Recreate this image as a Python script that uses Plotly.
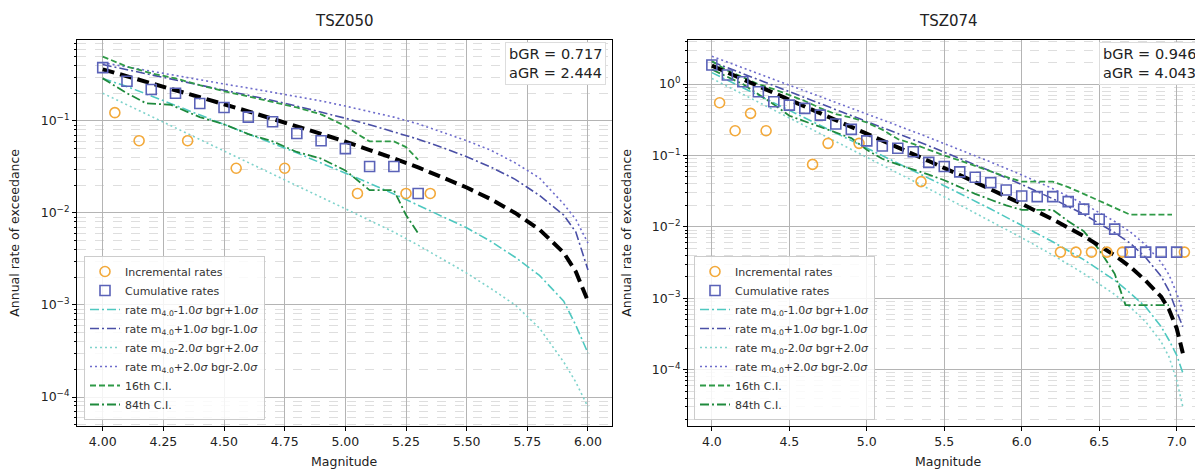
import plotly.graph_objects as go

# ---------------- TSZ050 (left) ----------------
L_inc_m = [4.05, 4.15, 4.35, 4.55, 4.75, 5.05, 5.25, 5.35]
L_inc_r = [0.123, 0.061, 0.061, 0.0306, 0.0306, 0.0163, 0.0163, 0.0163]
L_cum_m = [4.0, 4.1, 4.2, 4.3, 4.4, 4.5, 4.6, 4.7, 4.8, 4.9, 5.0, 5.1, 5.2, 5.3]
L_cum_r = [0.38, 0.27, 0.22, 0.20, 0.155, 0.14, 0.11, 0.098, 0.073, 0.061, 0.050, 0.032, 0.032, 0.0163]

L_curve_m = [4.0, 4.1, 4.2, 4.3, 4.4, 4.5, 4.6, 4.7, 4.8, 4.9, 5.0, 5.1, 5.2, 5.3, 5.4,
             5.5, 5.6, 5.7, 5.8, 5.9, 5.95, 6.0]
L_mean = [0.364, 0.307, 0.258, 0.217, 0.182, 0.152, 0.127, 0.106, 0.0878, 0.0725, 0.0595,
          0.0485, 0.0392, 0.0313, 0.0246, 0.0189, 0.0141, 0.0100, 0.0066, 0.0037, 0.0023, 0.0011]
L_m1b1 = [0.29, 0.236, 0.187, 0.148, 0.117, 0.092, 0.073, 0.057, 0.045, 0.035, 0.0272,
          0.021, 0.0161, 0.0122, 0.0092, 0.0069, 0.0049, 0.0033, 0.0021, 0.0011, 0.0006, 0.0003]
L_p1b1 = [0.41, 0.361, 0.320, 0.283, 0.249, 0.219, 0.192, 0.167, 0.145, 0.125, 0.107,
          0.091, 0.0765, 0.0634, 0.0515, 0.0408, 0.0315, 0.0232, 0.0155, 0.0095, 0.0062, 0.0024]
L_m2b2 = [0.20, 0.15, 0.113, 0.0843, 0.063, 0.0472, 0.0353, 0.0264, 0.0198, 0.0148, 0.0111,
          0.0083, 0.0062, 0.00447, 0.00316, 0.00222, 0.00151, 0.0010, 0.00056, 0.00024, 0.000145, 0.000078]
L_p2b2 = [0.43, 0.385, 0.345, 0.31, 0.28, 0.252, 0.228, 0.205, 0.185, 0.165, 0.145,
          0.127, 0.11, 0.093, 0.076, 0.061, 0.048, 0.035, 0.024, 0.0125, 0.0085, 0.0047]
L_ci16_m = [4.0, 4.1, 4.2, 4.3, 4.4, 4.5, 4.6, 4.7, 4.8, 4.9, 5.0, 5.05, 5.1, 5.2, 5.25, 5.3]
L_ci16_r = [0.50, 0.39, 0.33, 0.29, 0.245, 0.21, 0.185, 0.16, 0.14, 0.118, 0.088, 0.072, 0.060, 0.060, 0.052, 0.038]
L_ci84_m = [4.0, 4.1, 4.18, 4.28, 4.4, 4.5, 4.6, 4.7, 4.8, 4.9, 5.0, 5.1, 5.2, 5.25, 5.3]
L_ci84_r = [0.29, 0.20, 0.155, 0.15, 0.11, 0.092, 0.072, 0.06, 0.046, 0.039, 0.029, 0.0177, 0.0177, 0.0095, 0.006]

# ---------------- TSZ074 (right) ----------------
R_inc_m = [4.05, 4.15, 4.25, 4.35, 4.65, 4.75, 4.95, 5.35, 6.25, 6.35, 6.45, 6.55, 6.65, 7.05]
R_inc_r = [0.548, 0.222, 0.389, 0.222, 0.075, 0.148, 0.148, 0.043,
           0.00443, 0.00443, 0.00443, 0.00443, 0.00443, 0.00443]
R_cum_m = [4.0, 4.1, 4.2, 4.3, 4.4, 4.5, 4.6, 4.7, 4.8, 4.9, 5.0, 5.1, 5.2, 5.3, 5.4, 5.5,
           5.6, 5.7, 5.8, 5.9, 6.0, 6.1, 6.2, 6.3, 6.4, 6.5, 6.6, 6.7, 6.8, 6.9, 7.0]
R_cum_r = [1.85, 1.34, 1.08, 0.78, 0.566, 0.508, 0.457, 0.368, 0.276, 0.232, 0.16, 0.136,
           0.126, 0.113, 0.08, 0.070, 0.059, 0.0496, 0.0417, 0.0329, 0.0271, 0.0265, 0.0265,
           0.0226, 0.0177, 0.0128, 0.0093, 0.00443, 0.00443, 0.00443, 0.00443]

R_curve_m = [4.0, 4.2, 4.4, 4.6, 4.8, 5.0, 5.2, 5.4, 5.6, 5.8, 6.0, 6.2, 6.4, 6.6, 6.7,
             6.8, 6.9, 6.95, 7.0, 7.04]
R_mean = [1.813, 1.172, 0.757, 0.489, 0.3155, 0.2033, 0.1307, 0.0837, 0.0533, 0.0337, 0.0210,
          0.01275, 0.00743, 0.00399, 0.00276, 0.00176, 0.00105, 0.0007, 0.00038, 0.00017]
R_m1b1 = [1.449, 0.893, 0.550, 0.339, 0.2086, 0.1283, 0.0788, 0.0482, 0.0294, 0.01777, 0.01061,
          0.00619, 0.00347, 0.00179, 0.00118, 0.000756, 0.0004, 0.00026, 0.00016, 0.00009]
R_p1b1 = [2.064, 1.406, 0.958, 0.6515, 0.4427, 0.3001, 0.2028, 0.1365, 0.0912, 0.0603, 0.0392,
          0.0248, 0.0150, 0.0083, 0.0059, 0.00373, 0.00202, 0.00128, 0.00065, 0.0004]
R_m2b2 = [1.199, 0.7226, 0.4352, 0.262, 0.1576, 0.0948, 0.0569, 0.0341, 0.0203, 0.01203, 0.00704,
          0.00403, 0.00222, 0.00113, 0.00075, 0.000468, 0.000245, 0.000152, 0.0000713, 0.00003]
R_p2b2 = [2.461, 1.70, 1.1735, 0.8092, 0.5572, 0.3828, 0.2621, 0.1787, 0.121, 0.081, 0.0534,
          0.0343, 0.021, 0.0119, 0.0085, 0.00557, 0.00318, 0.00214, 0.00119, 0.00066]
R_ci16_m = [4.0, 4.1, 4.2, 4.3, 4.4, 4.5, 4.6, 4.7, 4.8, 4.9, 5.0, 5.1, 5.2, 5.3, 5.4, 5.5,
            5.6, 5.7, 5.8, 5.9, 6.0, 6.2, 6.3, 6.4, 6.5, 6.6, 6.7, 6.97]
R_ci16_r = [2.1, 1.55, 1.25, 1.0, 0.85, 0.70, 0.58, 0.46, 0.38, 0.34, 0.29, 0.23, 0.17, 0.145,
            0.12, 0.10, 0.085, 0.072, 0.06, 0.05, 0.043, 0.043, 0.036, 0.029, 0.023, 0.0185,
            0.0148, 0.0148]
R_ci84_m = [4.0, 4.1, 4.2, 4.3, 4.4, 4.5, 4.6, 4.7, 4.8, 4.9, 5.0, 5.1, 5.2, 5.3, 5.4, 5.5,
            5.6, 5.7, 5.8, 5.9, 6.0, 6.2, 6.3, 6.4, 6.5, 6.6, 6.67, 6.95]
R_ci84_r = [1.6, 1.25, 1.0, 0.72, 0.52, 0.36, 0.30, 0.25, 0.21, 0.175, 0.12, 0.09, 0.075, 0.064,
            0.054, 0.045, 0.036, 0.029, 0.024, 0.020, 0.0173, 0.0173, 0.012, 0.0087, 0.0048,
            0.0022, 0.0008, 0.0008]

L_gr = ["bGR = 0.717", "aGR = 2.444"]
R_gr = ["bGR = 0.946", "aGR = 4.043"]
titles = ["TSZ050", "TSZ074"]
L_xticks = [4.0, 4.25, 4.5, 4.75, 5.0, 5.25, 5.5, 5.75, 6.0]
R_xticks = [4.0, 4.5, 5.0, 5.5, 6.0, 6.5, 7.0]
yticks = [1, 0.1, 0.01, 0.001, 0.0001]
ytick_text = ["10<sup>0</sup>", "10<sup>\u22121</sup>", "10<sup>\u22122</sup>",
              "10<sup>\u22123</sup>", "10<sup>\u22124</sup>"]

names = ["Incremental rates", "Cumulative rates",
         "rate m<sub>4.0</sub>-1.0<i>\u03c3</i> bgr+1.0<i>\u03c3</i>",
         "rate m<sub>4.0</sub>+1.0<i>\u03c3</i> bgr-1.0<i>\u03c3</i>",
         "rate m<sub>4.0</sub>-2.0<i>\u03c3</i> bgr+2.0<i>\u03c3</i>",
         "rate m<sub>4.0</sub>+2.0<i>\u03c3</i> bgr-2.0<i>\u03c3</i>",
         "16th C.I.", "84th C.I."]

C_INC = "#f3a93a"
C_CUM = "#5a62b8"
C_M1 = "#4fc8c0"
C_P1 = "#4a4fa6"
C_M2 = "#7fd3cc"
C_P2 = "#6e6ccc"
C_G16 = "#2f9a47"
C_G84 = "#1f8a3d"

DASHDOT = "9px,3px,2px,3px"
DOT = "2px,3px"

fig = go.Figure()


def add_panel(xa, ya, leg, inc_m, inc_r, cum_m, cum_r, cm, mean, m1, p1, m2, p2,
              c16m, c16r, c84m, c84r):
    common = dict(xaxis=xa, yaxis=ya, legend=leg)
    curves = [(m1, C_M1, DASHDOT, names[2], 3), (p1, C_P1, DASHDOT, names[3], 4),
              (m2, C_M2, DOT, names[4], 5), (p2, C_P2, DOT, names[5], 6)]
    for vals, col, dash, nm, rk in curves:
        fig.add_trace(go.Scatter(x=cm, y=vals, mode="lines", name=nm, legendrank=rk,
                                 line=dict(color=col, width=1.6, dash=dash), **common))
    fig.add_trace(go.Scatter(x=c16m, y=c16r, mode="lines", name=names[6], legendrank=7,
                             line=dict(color=C_G16, width=1.8, dash="6px,3px"), **common))
    fig.add_trace(go.Scatter(x=c84m, y=c84r, mode="lines", name=names[7], legendrank=8,
                             line=dict(color=C_G84, width=1.8, dash=DASHDOT), **common))
    fig.add_trace(go.Scatter(x=cm, y=mean, mode="lines", showlegend=False,
                             line=dict(color="black", width=4, dash="12px,6px"), **common))
    fig.add_trace(go.Scatter(x=inc_m, y=inc_r, mode="markers", name=names[0], legendrank=1,
                             marker=dict(symbol="circle-open", size=10, color=C_INC,
                                         line=dict(width=1.6)), **common))
    fig.add_trace(go.Scatter(x=cum_m, y=cum_r, mode="markers", name=names[1], legendrank=2,
                             marker=dict(symbol="square-open", size=10, color=C_CUM,
                                         line=dict(width=1.6)), **common))


add_panel("x", "y", "legend", L_inc_m, L_inc_r, L_cum_m, L_cum_r, L_curve_m, L_mean,
          L_m1b1, L_p1b1, L_m2b2, L_p2b2, L_ci16_m, L_ci16_r, L_ci84_m, L_ci84_r)
add_panel("x2", "y2", "legend2", R_inc_m, R_inc_r, R_cum_m, R_cum_r, R_curve_m, R_mean,
          R_m1b1, R_p1b1, R_m2b2, R_p2b2, R_ci16_m, R_ci16_r, R_ci84_m, R_ci84_r)

# page is offset by the default 8px body margin; work in page pixels and convert
OFF = 8
W, H = 1203 - OFF, 470 - OFF


def px(p):
    return (p - OFF) / W


def py(p):
    return 1 - (p - OFF) / H


FONT = "DejaVu Sans"
TXT = "#222222"
GRID = "#b4b4b4"
MINOR = "#dedede"

TOP, BOT = 39.5, 426.0
LX0, LX1 = 77.0, 612.0
RX0 = 688.0
ydom = [py(BOT), py(TOP)]
Ldom = [px(LX0), px(LX1)]
Rdom = [px(RX0), 1.0]

xbase = dict(showgrid=True, gridcolor=GRID, gridwidth=1, showline=True, linecolor="black",
             linewidth=1, mirror=True, ticks="outside", ticklen=4, tickcolor="black",
             tickfont=dict(size=12.5, color=TXT, family=FONT), zeroline=False,
             automargin=False)
ybase = dict(type="log", showgrid=True, gridcolor=GRID, gridwidth=1, showline=True,
             linecolor="black", linewidth=1, ticks="outside", ticklen=4, tickcolor="black",
             tickvals=yticks, ticktext=ytick_text,
             tickfont=dict(size=12.5, color=TXT, family=FONT), zeroline=False,
             automargin=False,
             minor=dict(dtick="D1", showgrid=True, gridcolor=MINOR, griddash="dash",
                        gridwidth=1, ticks="outside", ticklen=2, tickcolor="black"))

legbase = dict(bgcolor="rgba(255,255,255,0.85)", bordercolor="#cccccc", borderwidth=1,
               font=dict(size=11, color="#333333", family=FONT), xanchor="left",
               yanchor="bottom", tracegroupgap=0, itemwidth=30)

fig.update_layout(
    width=W, height=H, margin=dict(l=0, r=0, t=0, b=0, autoexpand=False),
    paper_bgcolor="white", plot_bgcolor="white",
    font=dict(family=FONT, color=TXT),
    xaxis=dict(xbase, domain=Ldom, range=[3.894, 6.099], tickvals=L_xticks,
               tickformat=".2f", anchor="y"),
    yaxis=dict(ybase, domain=ydom, range=[-4.315, -0.115], anchor="x", mirror=True),
    xaxis2=dict(xbase, domain=Rdom, range=[3.846, 7.17], tickvals=R_xticks,
                tickformat=".1f", anchor="y2"),
    yaxis2=dict(ybase, domain=ydom, range=[-4.79, 0.625], anchor="x2", mirror=False),
    legend=dict(legbase, x=px(84), y=py(420)),
    legend2=dict(legbase, x=px(694), y=py(420)),
    showlegend=True,
)

ymid = py((TOP + BOT) / 2)
for i, (x0, x1, ytx, gr) in enumerate([(LX0, LX1, 15, L_gr), (RX0, 1208.0, 627, R_gr)]):
    fig.add_annotation(text=titles[i], xref="paper", yref="paper",
                       x=px((x0 + x1) / 2), y=py(21),
                       showarrow=False, font=dict(size=15, color=TXT, family=FONT),
                       xanchor="center", yanchor="middle")
    fig.add_annotation(text="Magnitude", xref="paper", yref="paper",
                       x=px((x0 + x1) / 2), y=py(461),
                       showarrow=False, font=dict(size=12.5, color=TXT, family=FONT),
                       xanchor="center", yanchor="middle")
    fig.add_annotation(text="Annual rate of exceedance", xref="paper", yref="paper",
                       x=px(ytx), y=ymid, textangle=-90,
                       showarrow=False, font=dict(size=12.5, color=TXT, family=FONT),
                       xanchor="center", yanchor="middle")
    xr = 606 if i == 0 else 1200
    fig.add_annotation(text="<br>".join(gr), xref="paper", yref="paper", x=px(xr),
                       y=py(42), xanchor="right", yanchor="top", align="left",
                       showarrow=False, bgcolor="white", bordercolor="#dddddd",
                       borderwidth=1, borderpad=3,
                       font=dict(size=14.5, color=TXT, family=FONT))

fig.write_html("out.html")
